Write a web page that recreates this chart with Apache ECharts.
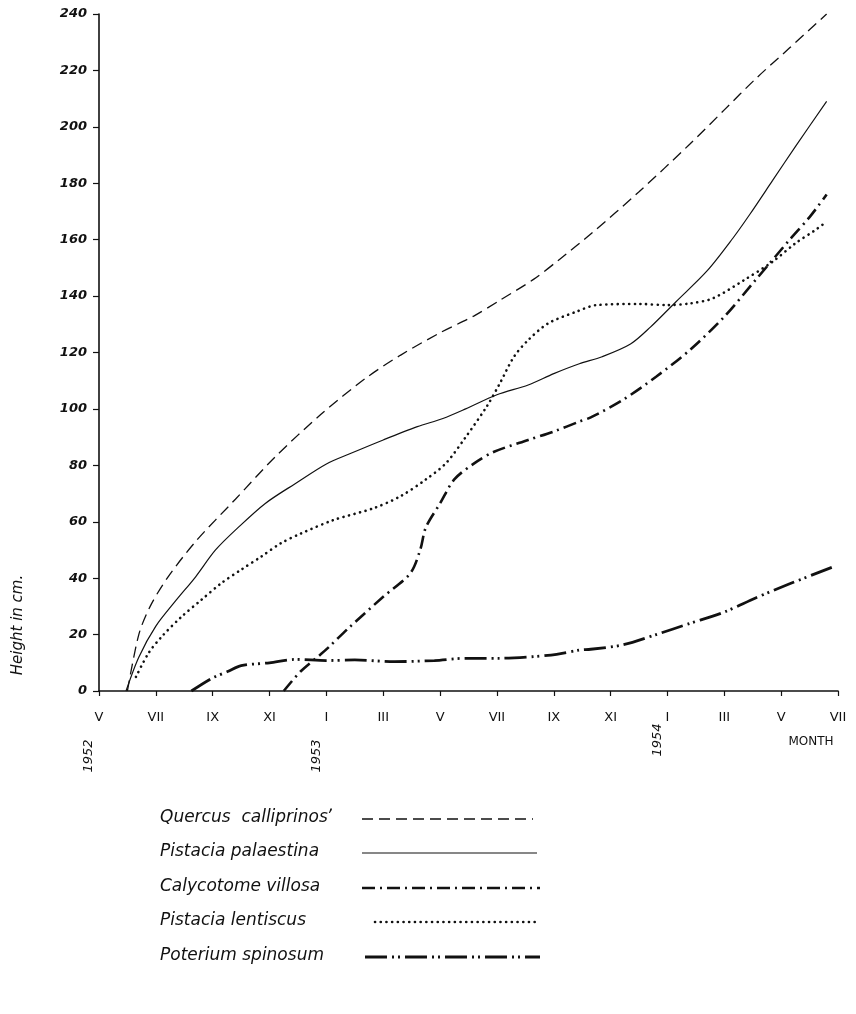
<!DOCTYPE html>
<html>
<head>
<meta charset="utf-8">
<script src="https://cdn.jsdelivr.net/npm/echarts@6/dist/echarts.min.js"></script>
<style>
html,body{margin:0;padding:0;background:#fff;}
#chart{width:856px;height:1014px;}
</style>
</head>
<body>
<div id="chart"></div>
<script>
// ---- data (x = months since May 1952, y = height in cm) ----
const monthTickLabels = ['V','VII','IX','XI','I','III','V','VII','IX','XI','I','III','V','VII'];
const yearMonths = [0, 8, 20];
const yearLabels = ['1952', '1953', '1954'];
const yTicks = [0, 240, 20]; // min, max, interval

const seriesNames = ['Quercus  calliprinos\u02bc', 'Pistacia palaestina', 'Calycotome villosa', 'Pistacia lentiscus', 'Poterium spinosum'];

const quercus = [[1.0,0],[1.4,20],[1.8,30],[2.4,40],[3.4,53],[4.8,68],[6.2,83],[7.8,98],[9.4,111],[10.6,119],[12,127],[13.2,133],[14.1,138.5],[15.3,146],[16.2,153],[17.3,162],[19,177],[20.8,194],[22,206],[23.1,217],[24.3,228],[25.6,240]];
const palaestina = [[0.95,0],[1.4,12],[2,23],[2.7,32],[3.4,40.5],[4.1,50],[4.9,58],[5.85,66.5],[6.9,73.5],[8,80.5],[8.8,84],[10,89],[11.2,93.7],[12.1,96.6],[12.9,100],[14,105],[15.1,108.5],[16,112.5],[16.9,116],[17.7,118.5],[18.7,123],[19.4,129],[20.3,138],[21.4,149],[22.3,160.5],[22.9,169],[23.7,181],[24.5,193],[25.6,209]];
const calycotome = [[6.5,0],[7.1,7],[7.8,13],[8.1,15.7],[8.8,22.5],[10,33.4],[10.95,41.7],[11.3,50],[11.5,58],[12,66.5],[12.5,75],[13.2,80.7],[13.9,84.8],[15.1,89],[16,92],[16.9,95.5],[17.3,97],[18.4,103],[19.6,111.4],[20.8,121],[22,132.7],[23.1,145.7],[24.3,160],[25,168],[25.6,176]];
const lentiscus = [[1.3,5],[1.74,13.4],[2.2,19.2],[2.9,26.3],[3.6,32.3],[4.3,38.2],[5,43],[5.7,47.6],[6.4,52.4],[7.1,55.8],[8.25,60.6],[9.66,64.8],[10.6,69],[11.5,75],[12.2,80.7],[12.9,90],[13.65,101],[14.1,109],[14.6,118.5],[15.1,124.4],[15.8,130.3],[16.8,134.5],[17.5,136.8],[19,137.2],[20,136.8],[20.8,137.4],[21.6,139.2],[22.7,145.7],[23.7,152.2],[24.5,158.7],[25.2,163.4],[25.6,166.4]];
const poterium = [[3.25,0],[3.97,4.5],[4.55,7],[5,9],[6,10],[6.9,11.2],[8,10.8],[9,11],[10.4,10.4],[11.8,10.8],[12.9,11.6],[14.1,11.6],[15.3,12.2],[16.1,13],[16.9,14.5],[17.3,14.8],[18.4,16.3],[19.6,20],[20.8,24],[22,28],[23.1,33],[24.3,38],[25.9,44.3]];

// ---- styles ----
const INK = '#111';
const styles = [
  {width:1.3, type:[11,6], cap:'butt'},
  {width:1.2, type:'solid', cap:'butt'},
  {width:2.6, type:[13,5,2,5], cap:'butt'},
  {width:2.6, type:[0.1,5.6], cap:'round'},
  {width:2.8, type:[22,5,2,4,2,5], cap:'butt'}
];
const dataSets = [quercus, palaestina, calycotome, lentiscus, poterium];

const chart = echarts.init(document.getElementById('chart'), null, {renderer:'canvas'});
const FONT = 'DejaVu Sans';

chart.setOption({
  backgroundColor:'#fff',
  animation:false,
  grid:{left:99, right:18, top:14, bottom:323, containLabel:false},
  xAxis:{
    type:'value', min:0, max:26, interval:2,
    axisLine:{show:true, onZero:false, lineStyle:{color:INK, width:1.6}},
    axisTick:{show:true, length:5, lineStyle:{color:INK, width:1.2}},
    splitLine:{show:false},
    axisLabel:{margin:20, color:INK, fontFamily:FONT, fontSize:13,
      formatter:function(v){ return monthTickLabels[Math.round(v/2)] || ''; }}
  },
  yAxis:{
    type:'value', min:yTicks[0], max:yTicks[1], interval:yTicks[2],
    axisLine:{show:true, lineStyle:{color:INK, width:1.6}},
    axisTick:{show:true, length:6, lineStyle:{color:INK, width:1.2}},
    splitLine:{show:false},
    axisLabel:{margin:12, color:INK, fontFamily:FONT, fontSize:13, fontWeight:'bold', fontStyle:'italic'}
  },
  series: dataSets.map(function(d,i){
    return {
      name:seriesNames[i], type:'line', data:d, smooth:0.3, showSymbol:false,
      lineStyle:{color:INK, width:styles[i].width, type:styles[i].type, cap:styles[i].cap}
    };
  })
});

// ---- annotations positioned through the axis scales ----
const graphics = [];
yearMonths.forEach(function(m,i){
  const px = chart.convertToPixel({xAxisIndex:0}, m);
  const offsetY = i === 2 ? 740 : 756;
  graphics.push({type:'text', x:px - 10, y:offsetY, rotation:Math.PI/2, style:{text:yearLabels[i], fill:INK, font:'italic 13px "DejaVu Sans"', textAlign:'center', textVerticalAlign:'middle'}});
});
graphics.push({type:'text', x:18, y:625, rotation:Math.PI/2, style:{text:'Height in cm.', fill:INK, font:'italic 15px "DejaVu Sans"', textAlign:'center', textVerticalAlign:'middle'}});
graphics.push({type:'text', x:811, y:742, style:{text:'MONTH', fill:INK, font:'12px "DejaVu Sans"', textAlign:'center', textVerticalAlign:'middle'}});

// legend
const legendY = [818, 852, 887, 921, 956];
const legendX0 = [362, 362, 362, 375, 365];
const legendX1 = [533, 537, 540, 540, 540];
seriesNames.forEach(function(n,i){
  graphics.push({type:'text', x:160, y:legendY[i], style:{text:n, fill:INK, font:'italic 17px "DejaVu Sans"', textAlign:'left', textVerticalAlign:'middle'}});
  graphics.push({type:'line', shape:{x1:legendX0[i], y1:legendY[i]+1, x2:legendX1[i], y2:legendY[i]+1},
    style:{stroke:INK, lineWidth:styles[i].width, lineDash: Array.isArray(styles[i].type) ? styles[i].type : null, lineCap:styles[i].cap}});
});
chart.setOption({graphic:graphics});
</script>
</body>
</html>
